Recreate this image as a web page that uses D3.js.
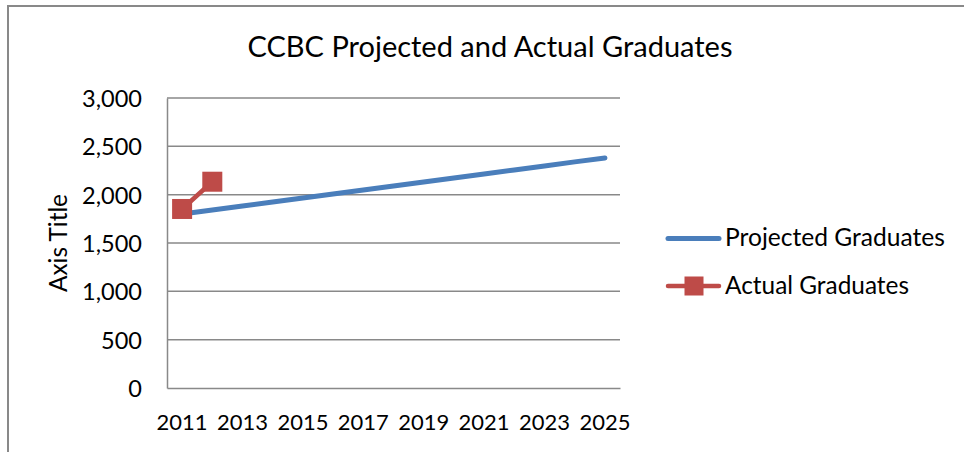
<!DOCTYPE html>
<html>
<head>
<meta charset="utf-8">
<script src="https://cdn.jsdelivr.net/npm/d3@7"></script>
<style>
  html, body { margin: 0; padding: 0; background: #fff; }
  svg { display: block; }
  text { font-family: Lato, "Open Sans", sans-serif; fill: #000; }
</style>
</head>
<body>
<svg id="chart" width="964" height="452"></svg>
<script>
const years = ["2011","2012","2013","2014","2015","2016","2017","2018","2019","2020","2021","2022","2023","2024","2025"];
const projected = [1800, 1841, 1883, 1924, 1966, 2007, 2049, 2090, 2131, 2173, 2214, 2256, 2297, 2339, 2380];
const actual = [1852, 2134];
const yTicks = [0, 500, 1000, 1500, 2000, 2500, 3000];
const xTickLabels = ["2011","2013","2015","2017","2019","2021","2023","2025"];
const seriesNames = ["Projected Graduates", "Actual Graduates"];
const titleText = "CCBC Projected and Actual Graduates";
const yAxisTitle = "Axis Title";

const blue = "#4a7ebb", red = "#be4b48", grid = "#898989";
const FONT = "Lato, 'Open Sans', sans-serif";
const svg = d3.select("#chart");

function fitWidth(sel, target) {
  const w = sel.node().getComputedTextLength();
  const fs = parseFloat(sel.attr("font-size"));
  sel.attr("font-size", fs * target / w);
}

// outer chart border (cropped at right and bottom)
svg.append("rect").attr("x", 8).attr("y", 6).attr("width", 1000).attr("height", 500)
  .attr("fill", "none").attr("stroke", grid).attr("stroke-width", 2);

const m = { left: 167, top: 98, right: 620, bottom: 388 };
const x = d3.scaleBand().domain(years).range([m.left, m.right]).paddingInner(0).paddingOuter(0);
const y = d3.scaleLinear().domain([0, 3000]).range([m.bottom, m.top]);
const cx = d => x(d) + x.bandwidth() / 2;

// gridlines
svg.append("g").selectAll("line").data(yTicks.filter(t => t > 0)).join("line")
  .attr("x1", m.left).attr("x2", m.right)
  .attr("y1", d => y(d)).attr("y2", d => y(d))
  .attr("stroke", grid).attr("stroke-width", 1.5);

// y axis
const yAxis = svg.append("g").attr("transform", `translate(${m.left},0)`)
  .call(d3.axisLeft(y).tickValues(yTicks).tickSize(0).tickPadding(25).tickFormat(d3.format(",")));
yAxis.select(".domain").attr("stroke", grid).attr("stroke-width", 1.5);
yAxis.selectAll("text").attr("font-size", 20).attr("dy", "0.36em").style("font-family", FONT);

// x axis
const xAxis = svg.append("g").attr("transform", `translate(0,${m.bottom})`)
  .call(d3.axisBottom(x).tickValues(xTickLabels).tickSize(0).tickPadding(26));
xAxis.select(".domain").attr("stroke", grid).attr("stroke-width", 1.5);
xAxis.selectAll("text").attr("font-size", 20).attr("dy", "0.71em").style("font-family", FONT);

// scale tick fonts to match reference widths
const tkw = yAxis.selectAll("text").filter(d => d === 3000).node().getComputedTextLength();
yAxis.selectAll("text").attr("font-size", 20 * 60 / tkw);
const xkw = xAxis.selectAll("text").node().getComputedTextLength();
xAxis.selectAll("text").attr("font-size", 20 * 51 / xkw);

// title
const title = svg.append("text").attr("x", 490).attr("y", 57).attr("text-anchor", "middle")
  .attr("font-size", 28).text(titleText);
fitWidth(title, 485);

// axis title
const at = svg.append("text").attr("transform", `translate(67,${(m.top + m.bottom) / 2}) rotate(-90)`)
  .attr("text-anchor", "middle").attr("font-size", 20).text(yAxisTitle);
fitWidth(at, 98);

// projected line
const line = d3.line().x((d, i) => cx(years[i])).y(d => y(d));
svg.append("path").datum(projected).attr("d", line)
  .attr("fill", "none").attr("stroke", blue).attr("stroke-width", 5).attr("stroke-linecap", "round");

// actual line + markers
svg.append("path").datum(actual).attr("d", line)
  .attr("fill", "none").attr("stroke", red).attr("stroke-width", 4.5).attr("stroke-linecap", "round");
const ms = 20;
svg.append("g").selectAll("rect").data(actual).join("rect")
  .attr("x", (d, i) => cx(years[i]) - ms / 2).attr("y", d => y(d) - ms / 2)
  .attr("width", ms).attr("height", ms).attr("fill", red);

// legend
const lg = svg.append("g");
lg.append("line").attr("x1", 668).attr("x2", 719).attr("y1", 238.5).attr("y2", 238.5)
  .attr("stroke", blue).attr("stroke-width", 5).attr("stroke-linecap", "round");
const l1 = lg.append("text").attr("x", 725).attr("y", 246).attr("font-size", 20).text(seriesNames[0]);
fitWidth(l1, 220);
lg.append("line").attr("x1", 668).attr("x2", 719).attr("y1", 286).attr("y2", 286)
  .attr("stroke", red).attr("stroke-width", 4.5).attr("stroke-linecap", "round");
lg.append("rect").attr("x", 694 - 9.5).attr("y", 286 - 9.5).attr("width", 19).attr("height", 19).attr("fill", red);
const l2 = lg.append("text").attr("x", 725).attr("y", 294).attr("font-size", 20).text(seriesNames[1]);
fitWidth(l2, 184);
</script>
</body>
</html>
